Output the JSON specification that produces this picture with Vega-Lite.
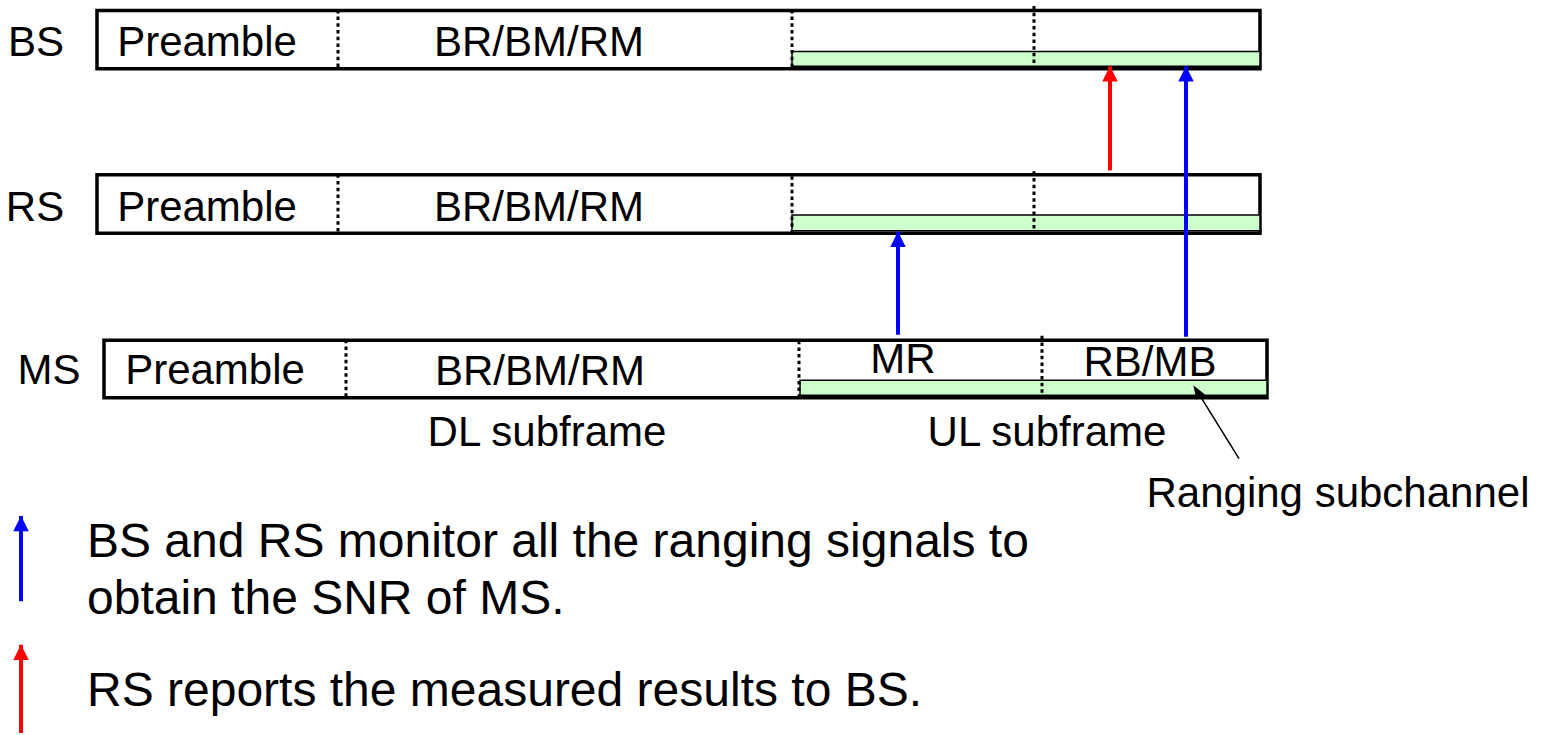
{
  "$schema": "https://vega.github.io/schema/vega-lite/v6.json",
  "width": 1548,
  "height": 735,
  "autosize": {"type": "fit", "contains": "padding"},
  "padding": 0,
  "background": "white",
  "config": {"view": {"stroke": null}},
  "datasets": {
    "boxes": [
      {"row": "BS", "x": 97, "x2": 1260, "y": 10.5, "y2": 69.5},
      {"row": "RS", "x": 97, "x2": 1260, "y": 176.5, "y2": 235.5},
      {"row": "MS", "x": 104, "x2": 1267, "y": 343.5, "y2": 401.5}
    ],
    "strips": [
      {"row": "BS", "x": 792, "x2": 1260, "y": 52, "y2": 67},
      {"row": "RS", "x": 792, "x2": 1260, "y": 217, "y2": 233},
      {"row": "MS", "x": 800, "x2": 1267, "y": 384, "y2": 399}
    ],
    "dividers": [
      {"x": 338, "y": 10, "y2": 70},
      {"x": 792, "y": 10, "y2": 68},
      {"x": 1034, "y": 6, "y2": 66},
      {"x": 338, "y": 176, "y2": 236},
      {"x": 792, "y": 178, "y2": 234},
      {"x": 1034, "y": 173, "y2": 232},
      {"x": 346, "y": 343, "y2": 400},
      {"x": 799, "y": 344, "y2": 400},
      {"x": 1042, "y": 339, "y2": 398}
    ],
    "arrows": [
      {"name": "MS to RS", "x": 898, "tail": 338, "tip": 234, "color": "#0000ff"},
      {"name": "MS to BS", "x": 1186, "tail": 340, "tip": 67, "color": "#0000ff"},
      {"name": "RS to BS", "x": 1110, "tail": 172, "tip": 67, "color": "#ff0000"},
      {"name": "legend blue", "x": 21, "tail": 607, "tip": 521, "color": "#0000ff"},
      {"name": "legend red", "x": 21, "tail": 740, "tip": 651, "color": "#ff0000"}
    ],
    "pointer": [
      {"x": 1239, "y": 463, "x2": 1199, "y2": 398, "hx": 1197, "hy": 395}
    ],
    "labels": [
      {"text": "BS", "x": 36, "y": 57},
      {"text": "Preamble", "x": 207, "y": 57},
      {"text": "BR/BM/RM", "x": 539, "y": 57},
      {"text": "RS", "x": 35, "y": 223},
      {"text": "Preamble", "x": 207, "y": 223},
      {"text": "BR/BM/RM", "x": 539, "y": 223},
      {"text": "MS", "x": 49, "y": 388},
      {"text": "Preamble", "x": 215, "y": 388},
      {"text": "BR/BM/RM", "x": 540, "y": 389},
      {"text": "MR", "x": 903, "y": 377},
      {"text": "RB/MB", "x": 1150, "y": 380},
      {"text": "DL subframe", "x": 547, "y": 450},
      {"text": "UL subframe", "x": 1047, "y": 450},
      {"text": "Ranging subchannel", "x": 1338, "y": 512}
    ],
    "legend": [
      {"text": "BS and RS monitor all the ranging signals to", "x": 87, "y": 562},
      {"text": "obtain the SNR of MS.", "x": 87, "y": 620},
      {"text": "RS reports the measured results to BS.", "x": 87, "y": 713}
    ]
  },
  "encoding": {
    "x": {"type": "quantitative", "scale": {"domain": [0, 1548], "nice": false, "zero": false}, "axis": null},
    "y": {"type": "quantitative", "scale": {"domain": [0, 735], "nice": false, "zero": false, "reverse": true}, "axis": null}
  },
  "layer": [
    {
      "data": {"name": "boxes"},
      "mark": {"type": "rect", "fill": "white", "stroke": "black", "strokeWidth": 3.5},
      "encoding": {"x": {"field": "x"}, "x2": {"field": "x2"}, "y": {"field": "y"}, "y2": {"field": "y2"}}
    },
    {
      "data": {"name": "strips"},
      "mark": {"type": "rect", "fill": "#ccffcc", "stroke": "black", "strokeWidth": 1.5},
      "encoding": {"x": {"field": "x"}, "x2": {"field": "x2"}, "y": {"field": "y"}, "y2": {"field": "y2"}}
    },
    {
      "data": {"name": "dividers"},
      "mark": {"type": "rule", "stroke": "black", "strokeWidth": 3, "strokeDash": [3.5, 3.2]},
      "encoding": {"x": {"field": "x"}, "y": {"field": "y"}, "y2": {"field": "y2"}}
    },
    {
      "data": {"name": "arrows"},
      "mark": {"type": "rule", "strokeWidth": 4},
      "encoding": {
        "x": {"field": "x"},
        "y": {"field": "tail"},
        "y2": {"field": "tip"},
        "color": {"field": "color", "type": "nominal", "scale": null}
      }
    },
    {
      "data": {"name": "arrows"},
      "mark": {"type": "point", "shape": "M0,-1L1,1L-1,1Z", "filled": true, "size": 240, "opacity": 1, "yOffset": 7.5},
      "encoding": {
        "x": {"field": "x"},
        "y": {"field": "tip"},
        "color": {"field": "color", "type": "nominal", "scale": null}
      }
    },
    {
      "data": {"name": "pointer"},
      "mark": {"type": "rule", "stroke": "black", "strokeWidth": 1.5},
      "encoding": {"x": {"field": "x"}, "y": {"field": "y"}, "x2": {"field": "x2"}, "y2": {"field": "y2"}}
    },
    {
      "data": {"name": "pointer"},
      "mark": {"type": "point", "shape": "M0,-1L0.7,1L-0.7,1Z", "filled": true, "size": 200, "opacity": 1, "color": "black", "angle": -32},
      "encoding": {"x": {"field": "hx"}, "y": {"field": "hy"}}
    },
    {
      "data": {"name": "labels"},
      "mark": {"type": "text", "align": "center", "baseline": "alphabetic", "font": "Liberation Sans", "fontSize": 42, "color": "black"},
      "encoding": {"x": {"field": "x"}, "y": {"field": "y"}, "text": {"field": "text"}}
    },
    {
      "data": {"name": "legend"},
      "mark": {"type": "text", "align": "left", "baseline": "alphabetic", "font": "Liberation Sans", "fontSize": 48, "color": "black"},
      "encoding": {"x": {"field": "x"}, "y": {"field": "y"}, "text": {"field": "text"}}
    }
  ]
}
